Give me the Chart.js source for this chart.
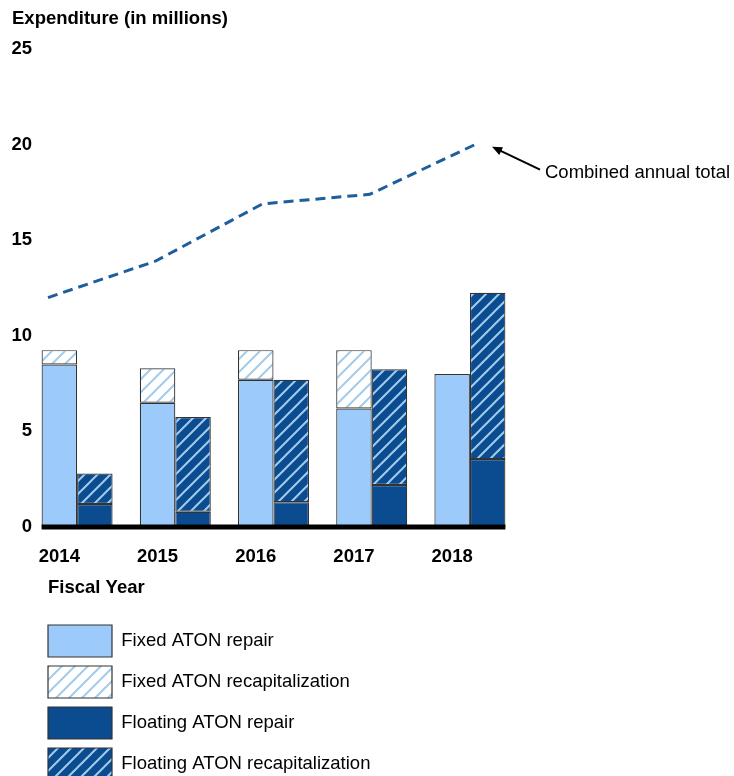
<!DOCTYPE html>
<html>
<head>
<meta charset="utf-8">
<script src="https://cdn.jsdelivr.net/npm/chart.js@4.4.1/dist/chart.umd.min.js"></script>
<style>
  html, body { margin: 0; padding: 0; background: #fff; }
</style>
</head>
<body>
<canvas id="myChart" width="734" height="776"></canvas>
<script>
const years = ['2014', '2015', '2016', '2017', '2018'];
const fixedRepair = [8.5, 6.5, 7.7, 6.2, 8.0];
const fixedRecap = [0.75, 1.8, 1.55, 3.05, 0];
const floatingRepair = [1.2, 0.8, 1.3, 2.2, 3.55];
const floatingRecap = [1.6, 4.95, 6.4, 6.05, 8.7];
const combinedTotal = [12.0, 13.9, 16.9, 17.4, 20.05];
const yTicks = [0, 5, 10, 15, 20, 25];

const lightBlue = '#9ccbfb';
const darkBlue = '#0a4c8f';
const stripe = '#a3cbec';
const edge = '#333333';

Chart.defaults.font.family = "'Liberation Sans', Arial, sans-serif";
Chart.defaults.color = '#000';

var ctx = document.getElementById('myChart');
var c2d = ctx.getContext('2d');

function hatch(bg) {
  const s = 13;
  const c = document.createElement('canvas');
  c.width = s; c.height = s;
  const g = c.getContext('2d');
  g.fillStyle = bg;
  g.fillRect(0, 0, s, s);
  g.strokeStyle = stripe;
  g.lineWidth = 2;
  g.beginPath();
  g.moveTo(0, s); g.lineTo(s, 0);
  g.moveTo(-2, 2); g.lineTo(2, -2);
  g.moveTo(s - 2, s + 2); g.lineTo(s + 2, s - 2);
  g.stroke();
  return c2d.createPattern(c, 'repeat');
}

function bar(label, data, stack, fill) {
  return {
    label: label,
    data: data,
    stack: stack,
    indexAxis: 'x',
    backgroundColor: fill,
    borderColor: edge,
    borderWidth: 1.2,
    borderSkipped: false,
    categoryPercentage: 0.723,
    barPercentage: 1,
    xAxisID: 'x',
    yAxisID: 'y'
  };
}

// thick zero line, arrow + note, x axis title
const extras = {
  id: 'extras',
  afterLayout(chart) {
    chart.legend.left += 11;
    chart.legend.top += 14;
  },
  afterDatasetsDraw(chart) {
    const g = chart.ctx;
    const y0 = chart.scales.y.getPixelForValue(0);
    const first = chart.getDatasetMeta(0).data[0];
    const last = chart.getDatasetMeta(3).data[years.length - 1];
    const xa = first.x - first.width / 2;
    const xb = last.x + last.width / 2;
    g.save();
    g.fillStyle = '#000';
    g.fillRect(xa, y0 - 2.5, xb - xa, 5);

    const pt = chart.getDatasetMeta(4).data[years.length - 1];
    const tip = { x: pt.x + 15, y: pt.y + 3 };
    const tail = { x: pt.x + 63, y: pt.y + 26 };
    g.strokeStyle = '#000';
    g.lineWidth = 2;
    g.beginPath();
    g.moveTo(tail.x, tail.y);
    g.lineTo(tip.x + 5, tip.y + 2.5);
    g.stroke();
    const ang = Math.atan2(tip.y - tail.y, tip.x - tail.x);
    g.beginPath();
    g.moveTo(tip.x, tip.y);
    g.lineTo(tip.x - 11 * Math.cos(ang - 0.4), tip.y - 11 * Math.sin(ang - 0.4));
    g.lineTo(tip.x - 11 * Math.cos(ang + 0.4), tip.y - 11 * Math.sin(ang + 0.4));
    g.closePath();
    g.fill();

    g.font = "18.5px 'Liberation Sans', Arial, sans-serif";
    g.textBaseline = 'middle';
    g.textAlign = 'left';
    g.fillText('Combined annual total', tail.x + 5, tail.y + 3);

    g.font = "bold 18.5px 'Liberation Sans', Arial, sans-serif";
    g.fillText('Fiscal Year', 48, 588);
    g.restore();
  }
};

var myChart = new Chart(ctx, {
  type: 'bar',
  data: {
    labels: years,
    datasets: [
      bar('Fixed ATON repair', fixedRepair, 'fixed', lightBlue),
      bar('Fixed ATON recapitalization', fixedRecap, 'fixed', hatch('#ffffff')),
      bar('Floating ATON repair', floatingRepair, 'floating', darkBlue),
      bar('Floating ATON recapitalization', floatingRecap, 'floating', hatch(darkBlue)),
      {
        type: 'line',
        label: 'Combined annual total',
        indexAxis: 'x',
        data: combinedTotal.map((v, i) => ({ x: i, y: v })),
        xAxisID: 'x2',
        yAxisID: 'y',
        borderColor: '#1d5e9c',
        borderWidth: 3,
        borderDash: [10, 6],
        pointRadius: 0,
        fill: false,
        tension: 0
      }
    ]
  },
  options: {
    // bars and line both run along x (set per dataset); this keeps the
    // hidden line axis out of the bar group slot count
    indexAxis: 'y',
    responsive: false,
    animation: false,
    layout: { padding: { left: 12, right: 215, top: 0, bottom: 0 } },
    plugins: {
      tooltip: { enabled: false },
      title: {
        display: true,
        text: 'Expenditure (in millions)',
        align: 'start',
        color: '#000',
        font: { size: 18.5, weight: 'bold' },
        padding: { top: 8, bottom: 18.8 }
      },
      legend: {
        position: 'bottom',
        align: 'start',
        fullSize: false,
        labels: {
          boxWidth: 64,
          boxHeight: 32,
          padding: 9,
          color: '#000',
          font: { size: 18.5 },
          filter: item => item.datasetIndex < 4
        }
      }
    },
    scales: {
      x: {
        type: 'category',
        offset: true,
        stacked: true,
        grid: { display: false, drawTicks: false },
        border: { display: false },
        ticks: { color: '#000', font: { size: 18.5, weight: 'bold' }, padding: 19, labelOffset: -17.75 },
        afterFit(s) { s.height = 75; }
      },
      x2: {
        type: 'linear',
        display: false,
        offset: false,
        bounds: 'data',
        min: -0.1865,
        max: 4.3915
      },
      y: {
        type: 'linear',
        offset: false,
        stacked: true,
        min: 0,
        max: 25,
        grid: { display: false, drawTicks: false },
        border: { display: false },
        ticks: { color: '#000', font: { size: 18.5, weight: 'bold' }, mirror: true, crossAlign: 'far', padding: -16.6 },
        afterBuildTicks(s) { s.ticks = yTicks.map(v => ({ value: v })); },
        afterFit(s) { s.width = 16; }
      }
    }
  },
  plugins: [extras]
});
</script>
</body>
</html>
